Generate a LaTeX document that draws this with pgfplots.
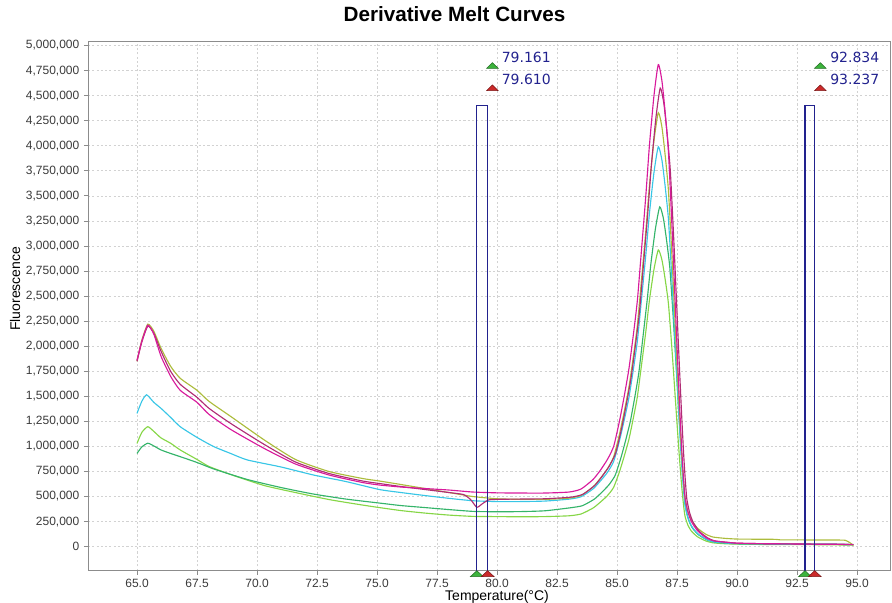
\documentclass[border=0pt]{standalone}
\usepackage{fontspec}
\setmainfont{Liberation Sans}
\newfontfamily\dejavu{DejaVu Sans}
\usepackage{pgfplots}
\pgfplotsset{compat=1.18}
\definecolor{cA}{HTML}{D81A9C}
\definecolor{cB}{HTML}{B02C74}
\definecolor{cC}{HTML}{ACBC3C}
\definecolor{cD}{HTML}{38C6E6}
\definecolor{cE}{HTML}{34B46A}
\definecolor{cF}{HTML}{86D646}
\definecolor{navy}{HTML}{22228E}
\definecolor{mkgreen}{HTML}{3CB43C}
\definecolor{mkred}{HTML}{CC2A2A}
\definecolor{axgray}{HTML}{8C8C8C}
\definecolor{ticktext}{HTML}{3A3A3A}

\begin{document}
\begin{tikzpicture}
\useasboundingbox (-66pt,-24.2pt) rectangle (603pt,428pt);
\begin{axis}[
    at={(0pt,0pt)}, anchor=south west,
    scale only axis,
    width=601.5pt, height=397.3pt,
    xmin=62.958, xmax=96.375,
    ymin=-239.5, ymax=5046,
    clip=false,
    axis line style={axgray, line width=0.6pt},
    tick align=outside,
    major tick length=3pt,
    tick style={axgray, line width=0.6pt},
    xtick pos=lower, ytick pos=left,
    xtick={65,67.5,70,72.5,75,77.5,80,82.5,85,87.5,90,92.5,95},
    xticklabels={65.0,67.5,70.0,72.5,75.0,77.5,80.0,82.5,85.0,87.5,90.0,92.5,95.0},
    ytick={0,250,500,750,1000,1250,1500,1750,2000,2250,2500,2750,3000,3250,3500,3750,4000,4250,4500,4750,5000},
    yticklabels={0,{250,000},{500,000},{750,000},{1,000,000},{1,250,000},{1,500,000},{1,750,000},{2,000,000},{2,250,000},{2,500,000},{2,750,000},{3,000,000},{3,250,000},{3,500,000},{3,750,000},{4,000,000},{4,250,000},{4,500,000},{4,750,000},{5,000,000}},
    ticklabel style={font=\fontsize{9}{11}\selectfont, text=ticktext},
    grid=major,
    major grid style={dash pattern=on 1.6pt off 1.6pt, color=gray!35, line width=0.5pt},
    title={Derivative Melt Curves},
    title style={at={(axis description cs:0.457,1.036)}, anchor=center, font=\bfseries\fontsize{15.5}{18}\selectfont},
    xlabel={Temperature(°C)},
    xlabel style={at={(axis description cs:0.51,-0.050)}, anchor=center, font=\fontsize{10.5}{12}\selectfont},
    ylabel={Fluorescence},
    ylabel style={at={(axis description cs:-0.091,0.532)}, anchor=center, font=\fontsize{10.5}{12}\selectfont},
    every axis plot/.append style={line width=0.85pt},
    curve/.style={smooth, tension=0.35},
]
% light green
\addplot[cF, curve] coordinates {
(65.0,1030)(65.2,1140)(65.45,1197)(65.7,1150)(66.0,1085)(66.4,1032)(66.8,965)(67.5,870)(68.0,800)(68.9,720)(70.3,610)(71.6,540)(73.0,470)(74.4,415)(75.1,390)(76,360)(77,335)(78,315)(79,302)(80,300)(81,298)(82,300)
(83.0,308)(83.5,326)(84.0,385)(84.3,443)(84.6,509)(84.86,592)(85.1,746)(85.3,902)(85.5,1075)(85.7,1306)(85.85,1500)(86.0,1773)(86.2,2145)(86.35,2456)(86.54,2766)(86.72,2960)(86.87,2863)(87.0,2678)(87.14,2431)(87.28,2002)(87.42,1514)(87.5,1231)(87.6,893)(87.69,617)(87.76,443)(87.83,308)(87.95,217)(88.1,155)(88.35,99)(88.7,57)(89.0,38)(89.5,29)(90,25)(91,22)(92,20)(93,20)(94,18)(94.85,15)
};
% green
\addplot[cE, curve] coordinates {
(65.0,930)(65.2,995)(65.45,1032)(65.7,1005)(66.0,965)(66.4,930)(66.8,898)(67.5,840)(68.2,775)(69.6,670)(71.0,590)(72.35,525)(73.7,475)(75.1,435)(76,410)(77,390)(78,370)(79,352)(80,348)(81,350)(82,358)
(83.06,388)(83.56,409)(84.06,475)(84.36,541)(84.66,616)(84.92,710)(85.16,884)(85.36,1061)(85.56,1256)(85.76,1518)(85.91,1737)(86.06,2047)(86.26,2467)(86.41,2819)(86.60,3171)(86.78,3390)(86.93,3279)(87.06,3067)(87.20,2784)(87.34,2293)(87.48,1734)(87.56,1411)(87.66,1024)(87.75,708)(87.82,510)(87.89,355)(88.01,250)(88.16,180)(88.41,116)(88.76,67)(89.06,45)(89.56,35)(90,30)(91,27)(92,26)(93,25)(94,24)(94.85,20)
};
% cyan
\addplot[cD, curve] coordinates {
(65.0,1330)(65.2,1450)(65.4,1515)(65.7,1440)(66.0,1380)(66.4,1290)(66.8,1197)(67.5,1090)(68.2,998)(68.9,930)(69.6,865)(71.0,795)(72.35,715)(73.7,650)(75.1,570)(76,540)(77,510)(78,482)(79,458)(80,450)(81,450)(82,455)
(83.0,474)(83.5,498)(84.0,576)(84.3,653)(84.6,741)(84.86,850)(85.1,1054)(85.3,1262)(85.5,1491)(85.7,1797)(85.85,2054)(86.0,2417)(86.2,2909)(86.35,3321)(86.54,3733)(86.72,3990)(86.87,3859)(87.0,3609)(87.14,3276)(87.28,2697)(87.42,2039)(87.5,1659)(87.6,1203)(87.69,830)(87.76,596)(87.83,414)(87.95,291)(88.1,207)(88.35,132)(88.7,75)(89.0,49)(89.5,37)(90,30)(91,28)(92,26)(93,25)(94,24)(94.85,20)
};
% olive / yellow-green
\addplot[cC, curve] coordinates {
(65.0,1850)(65.2,2060)(65.45,2220)(65.7,2150)(66.0,1980)(66.4,1800)(66.8,1680)(67.5,1560)(68.0,1450)(68.9,1300)(70.3,1065)(71.6,870)(73.0,750)(74.4,680)(75.1,655)(76,620)(77,580)(78,540)(79,500)(80,478)(81,472)(82,472)
(83.0,484)(83.5,511)(84.0,596)(84.3,680)(84.6,776)(84.86,896)(85.1,1119)(85.3,1346)(85.5,1597)(85.7,1931)(85.85,2213)(86.0,2609)(86.2,3148)(86.35,3599)(86.54,4049)(86.72,4330)(86.87,4189)(87.0,3921)(87.14,3563)(87.28,2941)(87.42,2234)(87.5,1825)(87.6,1335)(87.69,935)(87.76,683)(87.83,487)(87.95,355)(88.1,266)(88.35,185)(88.7,124)(89.0,96)(89.5,83)(90,76)(91,74)(91.6,73)(91.8,68)(93,67)(94,66)(94.5,64)(94.7,40)(94.85,12)
};
% crimson magenta
\addplot[cB, curve] coordinates {
(65.0,1850)(65.2,2040)(65.45,2200)(65.7,2130)(66.0,1950)(66.4,1750)(66.8,1620)(67.5,1490)(68.0,1380)(68.9,1230)(70.3,1020)(71.6,845)(73.0,730)(74.4,655)(75.1,630)(76,600)(77,570)(78,540)(78.6,520)(78.9,470)(79.16,393)(79.4,430)(79.65,466)(80,472)(81,475)(82,478)
(83.08,494)(83.58,523)(84.08,613)(84.38,702)(84.68,805)(84.94,931)(85.18,1168)(85.38,1409)(85.58,1675)(85.78,2030)(85.93,2328)(86.08,2749)(86.28,3321)(86.43,3799)(86.62,4277)(86.80,4575)(86.95,4425)(87.08,4139)(87.22,3757)(87.36,3093)(87.50,2339)(87.58,1903)(87.68,1380)(87.77,953)(87.84,684)(87.91,475)(88.03,335)(88.18,239)(88.43,153)(88.78,87)(89.08,57)(89.58,44)(90,35)(91,30)(92,28)(93,26)(94,25)(94.85,22)
};
% magenta
\addplot[cA, curve] coordinates {
(65.0,1860)(65.2,2050)(65.45,2210)(65.7,2120)(66.0,1900)(66.4,1700)(66.8,1560)(67.5,1440)(68.0,1320)(68.9,1170)(70.3,980)(71.6,825)(73.0,715)(74.4,640)(75.1,615)(76,595)(77,580)(78,565)(79,545)(80,537)(81,535)(82,535)
(83.0,545)(83.5,575)(84.0,670)(84.3,760)(84.6,870)(84.86,1000)(85.1,1250)(85.3,1500)(85.5,1780)(85.7,2150)(85.85,2460)(86.0,2900)(86.2,3500)(86.35,4000)(86.54,4500)(86.72,4810)(86.87,4650)(87.0,4350)(87.14,3950)(87.28,3250)(87.42,2460)(87.5,2000)(87.6,1450)(87.69,1000)(87.76,720)(87.83,500)(87.95,350)(88.1,250)(88.35,160)(88.7,90)(89.0,60)(89.5,45)(90,35)(91,30)(92,28)(93,25)(94,24)(94.85,20)
};
% marker rectangles
\addplot[navy, line width=0.9pt] coordinates {(79.161,-239.5) (79.161,4400) (79.610,4400) (79.610,-239.5)};
\addplot[navy, line width=0.9pt] coordinates {(92.834,-239.5) (92.834,4400) (93.237,4400) (93.237,-239.5)};
% bottom triangles
\addplot[fill=mkgreen, draw=mkgreen!60!black, line width=0.4pt] coordinates {(79.161,-239.5) (78.89,-299.5) (79.43,-299.5)} -- cycle;
\addplot[fill=mkred, draw=mkred!60!black, line width=0.4pt] coordinates {(79.610,-239.5) (79.34,-299.5) (79.88,-299.5)} -- cycle;
\addplot[fill=mkgreen, draw=mkgreen!60!black, line width=0.4pt] coordinates {(92.834,-239.5) (92.56,-299.5) (93.10,-299.5)} -- cycle;
\addplot[fill=mkred, draw=mkred!60!black, line width=0.4pt] coordinates {(93.237,-239.5) (92.97,-299.5) (93.51,-299.5)} -- cycle;
% top triangles
\addplot[fill=mkgreen, draw=mkgreen!60!black, line width=0.4pt] coordinates {(79.81,4829) (79.57,4773) (80.05,4773)} -- cycle;
\addplot[fill=mkred, draw=mkred!60!black, line width=0.4pt] coordinates {(79.81,4607) (79.57,4550) (80.05,4550)} -- cycle;
\addplot[fill=mkgreen, draw=mkgreen!60!black, line width=0.4pt] coordinates {(93.47,4829) (93.23,4773) (93.71,4773)} -- cycle;
\addplot[fill=mkred, draw=mkred!60!black, line width=0.4pt] coordinates {(93.47,4607) (93.23,4550) (93.71,4550)} -- cycle;
% labels
\node[anchor=west, inner sep=0pt, text=navy, font=\dejavu\fontsize{10.5}{12}\selectfont] at (axis cs:80.19,4879) {79.161};
\node[anchor=west, inner sep=0pt, text=navy, font=\dejavu\fontsize{10.5}{12}\selectfont] at (axis cs:80.19,4667) {79.610};
\node[anchor=west, inner sep=0pt, text=navy, font=\dejavu\fontsize{10.5}{12}\selectfont] at (axis cs:93.875,4879) {92.834};
\node[anchor=west, inner sep=0pt, text=navy, font=\dejavu\fontsize{10.5}{12}\selectfont] at (axis cs:93.875,4667) {93.237};
\end{axis}
\end{tikzpicture}
\end{document}
